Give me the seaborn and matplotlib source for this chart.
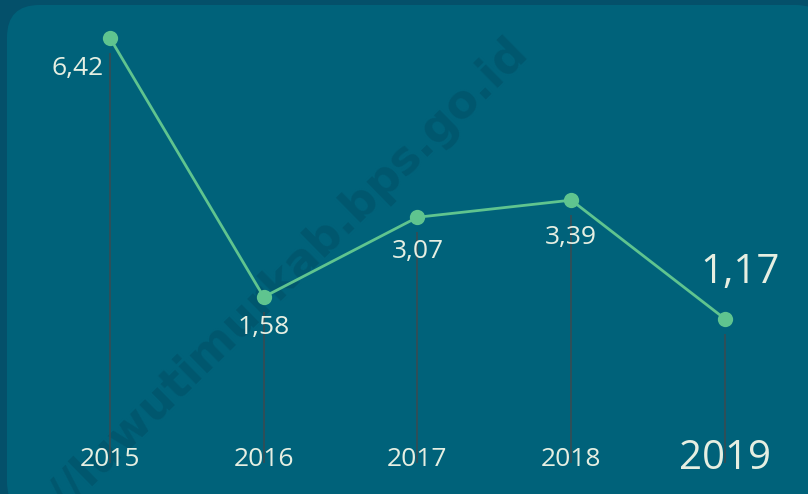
import matplotlib
matplotlib.use("Agg")
import matplotlib.pyplot as plt
import seaborn as sns
import pandas as pd
from matplotlib.patches import FancyBboxPatch

years = ["2015", "2016", "2017", "2018", "2019"]
values = [6.42, 1.58, 3.07, 3.39, 1.17]
value_labels = ["6,42", "1,58", "3,07", "3,39", "1,17"]

W, H = 808, 494
sns.set_theme(style="white")
plt.rcParams['font.family'] = ['Open Sans', 'DejaVu Sans']

fig = plt.figure(figsize=(W / 100, H / 100), dpi=100)
fig.patch.set_facecolor("#04506a")

panel = FancyBboxPatch((7 / W, -20 / H), (W - 7 + 20) / W, (H - 5 + 20) / H,
                       boxstyle="round,pad=0,rounding_size=0.04",
                       transform=fig.transFigure, facecolor="#00627a",
                       edgecolor="none", mutation_aspect=W / H, zorder=0)
fig.patches.append(panel)

# watermark
fig.text(520 / W, 1 - 44 / H, "http://luwutimurkab.bps.go.id", rotation=44.5,
         rotation_mode="anchor", ha="right", va="center", fontsize=33,
         fontweight="bold", color="#00576e", family="DejaVu Sans", zorder=1)

ax = fig.add_axes([0, 0, 1, 1])
ax.patch.set_alpha(0)
ax.set_zorder(2)

df = pd.DataFrame({"idx": range(len(years)), "year": years, "value": values})

px_unit_x = 153.75
x0 = 110
ax.set_xlim(-x0 / px_unit_x, (W - x0) / px_unit_x)
py = 53.5
y0_from_bottom = H - 381.5
ax.set_ylim(-y0_from_bottom / py, (H - y0_from_bottom) / py)

# vertical drop lines
bottom_val = (H - 463 - y0_from_bottom) / py
for i, v in enumerate(values):
    ax.vlines(i, bottom_val, v - 0.28, color="#3c4a50", linewidth=1.1, zorder=1)

sns.lineplot(data=df, x="idx", y="value", ax=ax, color="#5fc48f", linewidth=2,
             marker="o", markersize=11, markeredgewidth=0, zorder=3)

txt_color = "#e6efe2"
# value labels (offset in pixels)
offsets = [(-6, -30, "right", 19), (0, -31, "center", 19), (0, -34, "center", 19),
           (0, -37, "center", 19), (15, 46, "center", 29)]
for i, (lab, v) in enumerate(zip(value_labels, values)):
    dx, dy, ha, fs = offsets[i]
    ax.annotate(lab, (i, v), xytext=(dx, dy), textcoords="offset pixels",
                ha=ha, va="center", fontsize=fs, color=txt_color)

# year labels
for i, y in enumerate(years):
    fs = 29 if i == len(years) - 1 else 19
    ypix = 459
    ax.text(i, (H - ypix - y0_from_bottom) / py, y, ha="center", va="center",
            fontsize=fs, color=txt_color)

ax.set_axis_off()
fig.savefig("out.png", dpi=100, facecolor=fig.get_facecolor())
